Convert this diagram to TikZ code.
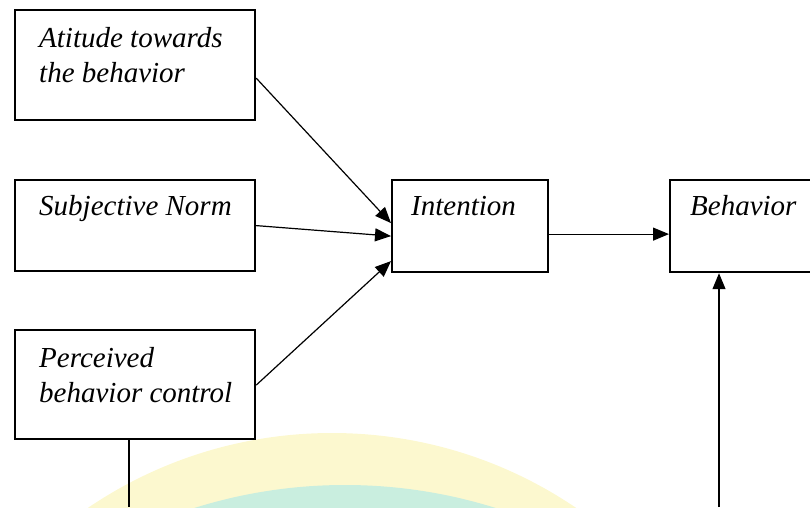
\documentclass[tikz,border=0pt]{standalone}
\usepackage{fontspec}
\setmainfont{Liberation Serif}
\usetikzlibrary{arrows.meta,calc}
\definecolor{wmyellow}{HTML}{FCF8CF}
\definecolor{wmteal}{HTML}{C9EEDF}
\tikzset{
  boxstyle/.style={draw, line width=2.2pt, rectangle, inner sep=0pt, anchor=north west},
  lbl/.style={anchor=base west, inner sep=0pt, font=\fontsize{29}{35}\selectfont\itshape, align=left},
  conn/.style={line width=1.2pt},
  arr/.style={line width=1.2pt, -{Triangle[length=16pt,width=13pt]}},
}
\begin{document}
\begin{tikzpicture}[x=1pt,y=-1pt]
\useasboundingbox (0,0) rectangle (810,507);
\clip (0,0) rectangle (810,507);
% faint watermark
\fill[wmyellow] (332,868) circle[radius=435];
\fill[wmteal] (345,987) circle[radius=502];
% boxes
\node[boxstyle, minimum width=240pt, minimum height=110pt] (att) at (14,9) {};
\node[boxstyle, minimum width=240pt, minimum height=91pt] (sn) at (14,179) {};
\node[boxstyle, minimum width=240pt, minimum height=109pt] (pbc) at (14,329) {};
\node[boxstyle, minimum width=156pt, minimum height=92pt] (int) at (391,179) {};
\node[boxstyle, minimum width=170pt, minimum height=92pt] (beh) at (669,179) {};
% labels (base = baseline of last line)
\node[lbl] (tatt) at (39,82) {Atitude towards\\the behavior};
\node[lbl] (tsn) at (39,215) {Subjective Norm};
\node[lbl] (tpbc) at (39,402) {Perceived\\behavior control};
\node[lbl] (tint) at (411,215) {Intention};
\node[lbl] (tbeh) at (690,215) {Behavior};
% connectors
\draw[arr] ([yshift=-13pt]att.east) -- ([yshift=3pt]int.west);
\draw[arr] ([yshift=0pt]sn.east) -- ([yshift=-10pt]int.west);
\draw[arr] ([yshift=-0.5pt]pbc.east) -- ([yshift=-35pt]int.west);
\draw[arr] ([yshift=-8pt]int.east) -- ([yshift=-8pt]beh.west);
\coordinate (pbot) at (129,507);
\coordinate (bbot) at (719,507);
\draw[conn] (pbot |- pbc.south) -- (pbot);
\draw[arr] (bbot) -- (bbot |- beh.south);
\end{tikzpicture}
\end{document}
